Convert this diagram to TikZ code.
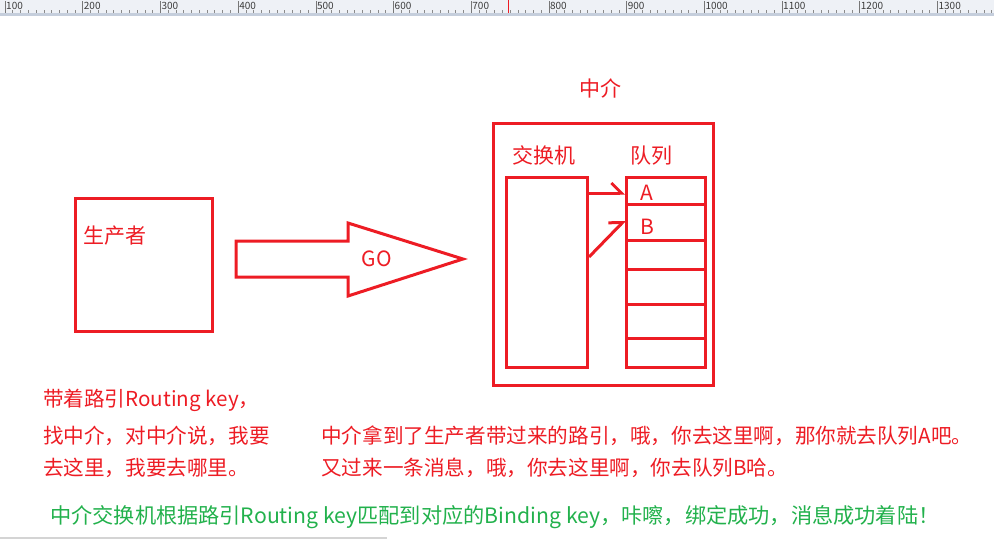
\documentclass[tikz,border=0pt]{standalone}
\usepackage{fontspec}
\setmainfont{Noto Sans CJK SC}
\usetikzlibrary{positioning,arrows.meta,calc}
\definecolor{paintRed}{HTML}{ED1C24}
\definecolor{paintGreen}{HTML}{22B14C}
\definecolor{rulerFill}{HTML}{EEF1F6}
\definecolor{rulerEdge}{HTML}{C5CEDC}
\definecolor{rulerText}{HTML}{3C3C3C}
\definecolor{scrollGray}{HTML}{D4D4D4}

\begin{document}
\begin{tikzpicture}[x=1pt, y=-1pt,
  redbox/.style={draw=paintRed, line width=3pt, inner sep=0pt},
  redlbl/.style={text=paintRed, font=\fontsize{21}{25}\selectfont, inner sep=0pt},
  note/.style={text=paintRed, font=\fontsize{20.6}{25}\selectfont, anchor=west, inner sep=0pt},
  greennote/.style={note, text=paintGreen, font=\fontsize{21.2}{25}\selectfont},
  harp/.style={draw=paintRed, line width=3pt, -{Straight Barb[left, length=10pt, width=20pt]}},
  rulernum/.style={text=rulerText, font=\fontsize{10}{12}\selectfont, anchor=west, inner sep=0pt}
]
\useasboundingbox (0,0) rectangle (994,539);

% ============ RULER ============
\fill[rulerFill] (0,0) rectangle (994,13);
\fill[rulerEdge] (0,13) rectangle (994,16);
\foreach \v [evaluate=\v as \px using 5+(\v-100)*0.777] in {100,110,...,1380}
  \draw[rulerText!60, line width=0.6pt] (\px,10) -- (\px,13);
\foreach \v [evaluate=\v as \px using 5+(\v-100)*0.777] in {100,200,...,1300} {
  \draw[rulerText!70, line width=0.6pt] (\px,1) -- (\px,13);
  \node[rulernum] (r\v) at (\px+1,5.5) {\v};
}
\draw[paintRed, line width=1pt] (508,0) -- (508,13);

% ============ PRODUCER ============
\node[redbox, minimum width=137, minimum height=133] (prod) at (144,265) {};
\node[redlbl, anchor=west] (prodlbl) at (83,236) {生产者};

% ============ GO ARROW ============
\draw[paintRed, line width=3pt, line join=miter]
  (236,241) -- (348,241) -- (348,223) -- (463,259) -- (348,296) -- (348,277) -- (236,277) -- cycle;
\node[redlbl] (go) at (377,259) {GO};

% ============ MEDIATOR ============
\node[redbox, minimum width=220, minimum height=262] (broker) at (603.5,254.5) {};
\node[redlbl] (brokerlbl) at (600,88) {中介};

\node[redbox, minimum width=81, minimum height=190] (exch) at (547,272.5) {};
\node[redlbl, anchor=west] (exchlbl) at (512,155) {交换机};

\node[redbox, minimum width=79, minimum height=190] (queue) at (666,272.5) {};
\node[redlbl, anchor=west] (queuelbl) at (630,156) {队列};
\foreach \y in {204,240,269,304,338}
  \draw[paintRed, line width=3pt] (queue.west |- 0,\y) -- (queue.east |- 0,\y);

\node[redlbl] (qa) at (647,193) {A};
\node[redlbl] (qb) at (647,227) {B};

\draw[harp] (exch.east |- 0,193) -- (queue.west |- 0,193);
\draw[harp] (exch.east |- 0,257) -- (queue.west |- 0,220);

% ============ NOTES ============
\node[note] (n1) at (43,400) {带着路引Routing key，};
\node[note] (n2) at (43,436) {找中介，对中介说，我要};
\node[note] (n3) at (43,468) {去这里，我要去哪里。};
\node[note] (n4) at (321,436) {中介拿到了生产者带过来的路引，哦，你去这里啊，那你就去队列A吧。};
\node[note] (n5) at (321,468) {又过来一条消息，哦，你去这里啊，你去队列B哈。};
\node[greennote] (n6) at (50,517) {中介交换机根据路引Routing key匹配到对应的Binding key，咔嚓，绑定成功，消息成功着陆！};

\draw[scrollGray, line width=2pt] (0,538) -- (387,538);
\end{tikzpicture}
\end{document}
